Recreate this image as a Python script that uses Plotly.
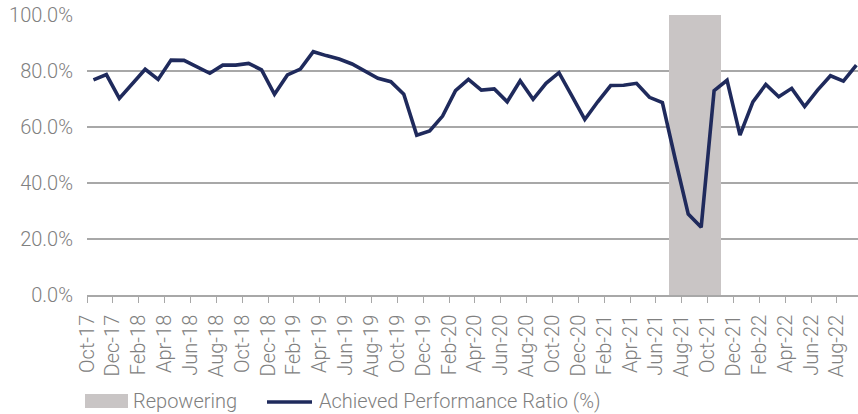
import plotly.graph_objects as go

months = [
    "Oct-17", "Nov-17", "Dec-17",
    "Jan-18", "Feb-18", "Mar-18", "Apr-18", "May-18", "Jun-18", "Jul-18", "Aug-18", "Sep-18", "Oct-18", "Nov-18", "Dec-18",
    "Jan-19", "Feb-19", "Mar-19", "Apr-19", "May-19", "Jun-19", "Jul-19", "Aug-19", "Sep-19", "Oct-19", "Nov-19", "Dec-19",
    "Jan-20", "Feb-20", "Mar-20", "Apr-20", "May-20", "Jun-20", "Jul-20", "Aug-20", "Sep-20", "Oct-20", "Nov-20", "Dec-20",
    "Jan-21", "Feb-21", "Mar-21", "Apr-21", "May-21", "Jun-21", "Jul-21", "Aug-21", "Sep-21", "Oct-21", "Nov-21", "Dec-21",
    "Jan-22", "Feb-22", "Mar-22", "Apr-22", "May-22", "Jun-22", "Jul-22", "Aug-22", "Sep-22",
]

performance_ratio = [
    76.8, 78.7, 70.2,
    75.6, 80.6, 77.0, 83.9, 83.8, 81.5, 79.2, 82.1, 82.1, 82.7, 80.4, 71.7,
    78.6, 80.7, 86.9, 85.5, 84.3, 82.5, 80.0, 77.4, 76.2, 71.7, 57.1, 58.6,
    63.9, 73.0, 77.0, 73.2, 73.6, 69.0, 76.5, 69.9, 75.6, 79.4, 71.1, 62.7,
    69.0, 74.8, 74.9, 75.6, 70.6, 68.7, 48.4, 28.9, 24.2, 73.0, 76.7, 57.1,
    69.0, 75.2, 70.8, 73.8, 67.3, 73.2, 78.3, 76.4, 82.1,
]

repowering_months = ["Jul-21", "Aug-21", "Sep-21", "Oct-21"]
repowering_level = [100.0, 100.0, 100.0, 100.0]

y_ticks = [0, 20, 40, 60, 80, 100]

x_idx = list(range(len(months)))
rep_idx = [months.index(m) for m in repowering_months]
tick_pos = [i - 0.5 for i in range(0, len(months), 2)]
tick_txt = months[::2]

TXT = "#808080"
GRID = "#a8a8a8"
FONT = dict(family="Roboto", size=20, color=TXT, weight=300)

fig = go.Figure()
fig.add_trace(go.Bar(
    x=rep_idx, y=[v / 100 for v in repowering_level], width=1,
    marker=dict(color="#c9c5c5", line=dict(width=0)),
    name="Repowering", showlegend=False, hoverinfo="skip",
))
fig.add_trace(go.Scatter(
    x=x_idx, y=[v / 100 for v in performance_ratio], mode="lines",
    line=dict(color="#1f2a5c", width=3.6),
    name="Achieved Performance Ratio (%)", showlegend=False,
))

W, H = 858, 414
L, R, T, B = 87, 0, 15, 119
pw = W - L - R
ph = H - T - B
month_px = 12.93

def px_x(px):
    return (px - L) / pw

def px_y(py):
    return (H - B - py) / ph

shapes = [
    dict(type="rect", xref="paper", yref="paper",
         x0=px_x(85), x1=px_x(128), y0=px_y(408), y1=px_y(394),
         fillcolor="#c9c5c5", line=dict(width=0)),
    dict(type="line", xref="paper", yref="paper",
         x0=px_x(267), x1=px_x(312), y0=px_y(402), y1=px_y(402),
         line=dict(color="#1f2a5c", width=3.6)),
]
annotations = [
    dict(text="Repowering", xref="paper", yref="paper", x=px_x(131), y=px_y(401),
         xanchor="left", yanchor="middle", showarrow=False, font=FONT),
    dict(text="Achieved Performance Ratio (%)", xref="paper", yref="paper",
         x=px_x(317), y=px_y(401), xanchor="left", yanchor="middle",
         showarrow=False, font=FONT),
]

fig.update_layout(
    width=W, height=H,
    margin=dict(l=L, r=R, t=T, b=B, pad=0, autoexpand=False),
    paper_bgcolor="white", plot_bgcolor="white",
    font=FONT,
    bargap=0,
    showlegend=False,
    shapes=shapes,
    annotations=annotations,
)
fig.update_xaxes(
    range=[-0.5, -0.5 + pw / month_px],
    tickmode="array", tickvals=tick_pos, ticktext=tick_txt,
    tickangle=-90, ticks="outside", ticklen=6, tickcolor=GRID, tickwidth=1.3,
    showline=True, linecolor=GRID, linewidth=1.5,
    showgrid=False, zeroline=False, automargin=False,
    tickfont=FONT, ticklabelstandoff=4,
)
fig.update_yaxes(
    range=[0, 1],
    tickmode="array", tickvals=[v / 100 for v in y_ticks], tickformat=".1%",
    showgrid=True, gridcolor=GRID, gridwidth=1.5,
    zeroline=False, showline=False, ticks="", automargin=False,
    tickfont=FONT, ticklabelstandoff=13,
)

fig.write_html(
    "out.html",
    config={"displayModeBar": False},
    post_script="document.body.style.margin='0';document.body.style.overflow='hidden';",
)
